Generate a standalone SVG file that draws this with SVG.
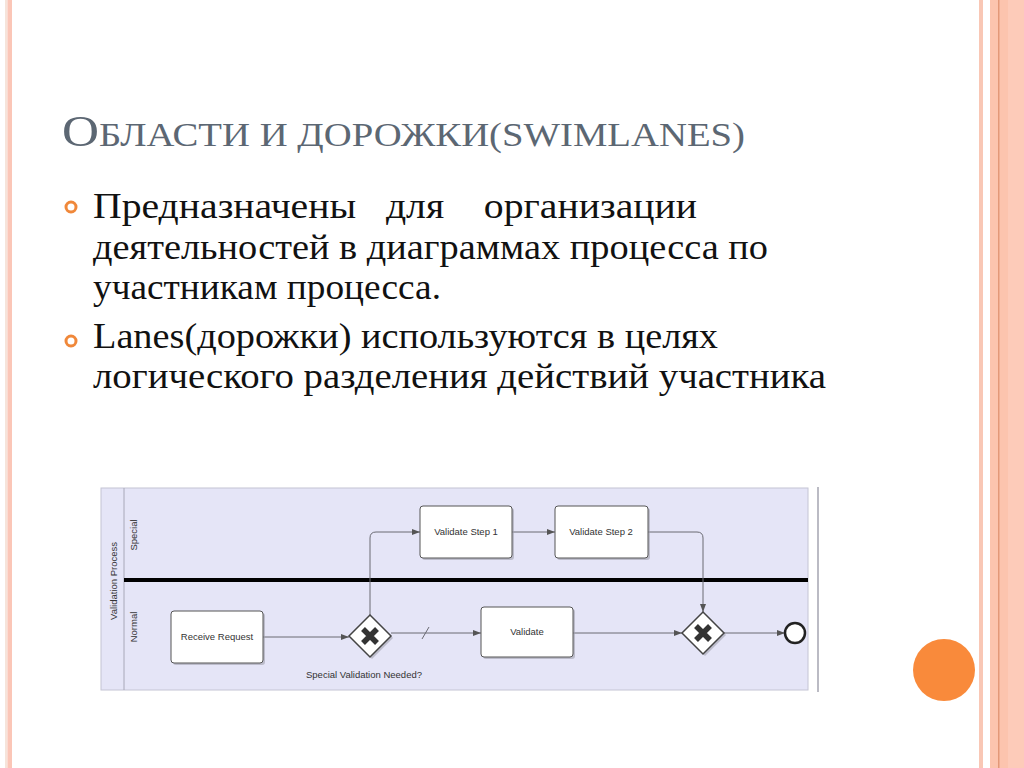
<svg xmlns="http://www.w3.org/2000/svg" width="1024" height="768" viewBox="0 0 1024 768">
<defs>
<style>
.body{font-size:35px;fill:#111;white-space:pre}
.title{fill:#5c6773}
.lbl{font-family:'Liberation Sans',Arial,sans-serif;font-size:9.5px;fill:#333}
.task{fill:#fff;stroke:#555;stroke-width:1}
.shadow{fill:#9a9aa8;opacity:0.55}
.flow{fill:none;stroke:#6a6a72;stroke-width:1}
.gw{fill:#fff;stroke:#444;stroke-width:1.5}
.gx{stroke:#333;stroke-width:5.5;stroke-linecap:butt}
.bullet{fill:none;stroke:#f0883a;stroke-width:3}
</style>
<marker id="arr" markerWidth="8" markerHeight="6" refX="8" refY="3" orient="auto" markerUnits="userSpaceOnUse">
<path d="M0,0 L8,3 L0,6 z" fill="#555"/>
</marker>
</defs>
<rect width="1024" height="768" fill="#fff"/>
<!-- decorative borders -->
<rect x="5" y="0" width="2.5" height="768" fill="#f6e4da"/>
<rect x="7.5" y="0" width="4.5" height="768" fill="#fbc6b7"/>
<rect x="979" y="0" width="4" height="768" fill="#f9c7b5"/>
<rect x="990" y="0" width="18" height="768" fill="#fcc4ae"/>
<rect x="998" y="0" width="1.5" height="768" fill="#e39878"/>
<rect x="1008" y="0" width="16" height="768" fill="#fdcbb9"/>
<circle cx="944" cy="670" r="31" fill="#f98a3b"/>
<!-- title -->
<text class="title" font-family="Liberation Serif, serif" x="62" y="146" textLength="683" lengthAdjust="spacingAndGlyphs"><tspan font-size="45">О</tspan><tspan font-size="34">БЛАСТИ И ДОРОЖКИ(SWIMLANES)</tspan></text>
<!-- bullets -->
<circle class="bullet" cx="71" cy="207" r="5"/>
<circle class="bullet" cx="71" cy="341" r="5"/>
<g font-family="Liberation Serif, serif">
<text class="body" x="93" y="218" textLength="604" lengthAdjust="spacingAndGlyphs">Предназначены   для    организации</text>
<text class="body" x="93" y="259" textLength="675" lengthAdjust="spacingAndGlyphs">деятельностей в диаграммах процесса по</text>
<text class="body" x="93" y="299" textLength="348" lengthAdjust="spacingAndGlyphs">участникам процесса.</text>
<text class="body" x="93" y="348" textLength="625" lengthAdjust="spacingAndGlyphs">Lanes(дорожки) используются в целях</text>
<text class="body" x="93" y="388" textLength="733" lengthAdjust="spacingAndGlyphs">логического разделения действий участника</text>
</g>
<!-- diagram pool -->
<g id="pool">
<rect x="101" y="488" width="707" height="202" fill="#e5e5f7" stroke="#c4c4d4" stroke-width="1"/>
<line x1="124" y1="488" x2="124" y2="690" stroke="#a8a8b8" stroke-width="1"/>
<line x1="818" y1="487" x2="818" y2="692" stroke="#a4a4b0" stroke-width="1.5"/>
<line x1="124" y1="580" x2="808" y2="580" stroke="#000" stroke-width="4"/>
<text class="lbl" transform="translate(117,581) rotate(-90)" text-anchor="middle" font-size="10.5">Validation Process</text>
<text class="lbl" transform="translate(137,535) rotate(-90)" text-anchor="middle">Special</text>
<text class="lbl" transform="translate(137,627) rotate(-90)" text-anchor="middle">Normal</text>
</g>
<g id="connectors">
<path class="flow" d="M263,637 H349" marker-end="url(#arr)"/>
<path class="flow" d="M370,615 V538 Q370,532 376,532 H420" marker-end="url(#arr)"/>
<path class="flow" d="M391,633 H481" marker-end="url(#arr)"/>
<path class="flow" d="M422,639 L429,627"/>
<path class="flow" d="M512,532 H555" marker-end="url(#arr)"/>
<path class="flow" d="M648,532 H697 Q703,532 703,538 V612" marker-end="url(#arr)"/>
<path class="flow" d="M573,633 H682" marker-end="url(#arr)"/>
<path class="flow" d="M724,633 H785" marker-end="url(#arr)"/>
</g>
<g id="receive">
<rect class="shadow" x="173" y="613" width="92" height="52" rx="3"/>
<rect class="task" x="171" y="611" width="92" height="52" rx="3"/>
<text class="lbl" x="217" y="640" text-anchor="middle">Receive Request</text>
</g>
<g id="gateway1">
<path class="shadow" d="M372,617 L393,638 L372,659 L351,638 z"/>
<path class="gw" d="M370,615 L391,636 L370,657 L349,636 z"/>
<path class="gx" d="M363,629 L377,643 M377,629 L363,643"/>
<text class="lbl" x="364" y="678" text-anchor="middle" font-size="9">Special Validation Needed?</text>
</g>
<g id="step1">
<rect class="shadow" x="422" y="508" width="92" height="52" rx="3"/>
<rect class="task" x="420" y="506" width="92" height="52" rx="3"/>
<text class="lbl" x="466" y="535" text-anchor="middle">Validate Step 1</text>
</g>
<g id="step2">
<rect class="shadow" x="557" y="508" width="93" height="52" rx="3"/>
<rect class="task" x="555" y="506" width="93" height="52" rx="3"/>
<text class="lbl" x="601" y="535" text-anchor="middle">Validate Step 2</text>
</g>
<g id="validate">
<rect class="shadow" x="483" y="609" width="92" height="50" rx="3"/>
<rect class="task" x="481" y="607" width="92" height="50" rx="3"/>
<text class="lbl" x="527" y="635" text-anchor="middle">Validate</text>
</g>
<g id="gateway2">
<path class="shadow" d="M705,614 L726,635 L705,656 L684,635 z"/>
<path class="gw" d="M703,612 L724,633 L703,654 L682,633 z"/>
<path class="gx" d="M696,626 L710,640 M710,626 L696,640"/>
</g>
<g id="end">
<circle cx="796" cy="634" r="10" fill="#9a9aa8" opacity="0.55"/>
<circle cx="795" cy="633" r="10" fill="#fff" stroke="#222" stroke-width="2.5"/>
</g>
</svg>
